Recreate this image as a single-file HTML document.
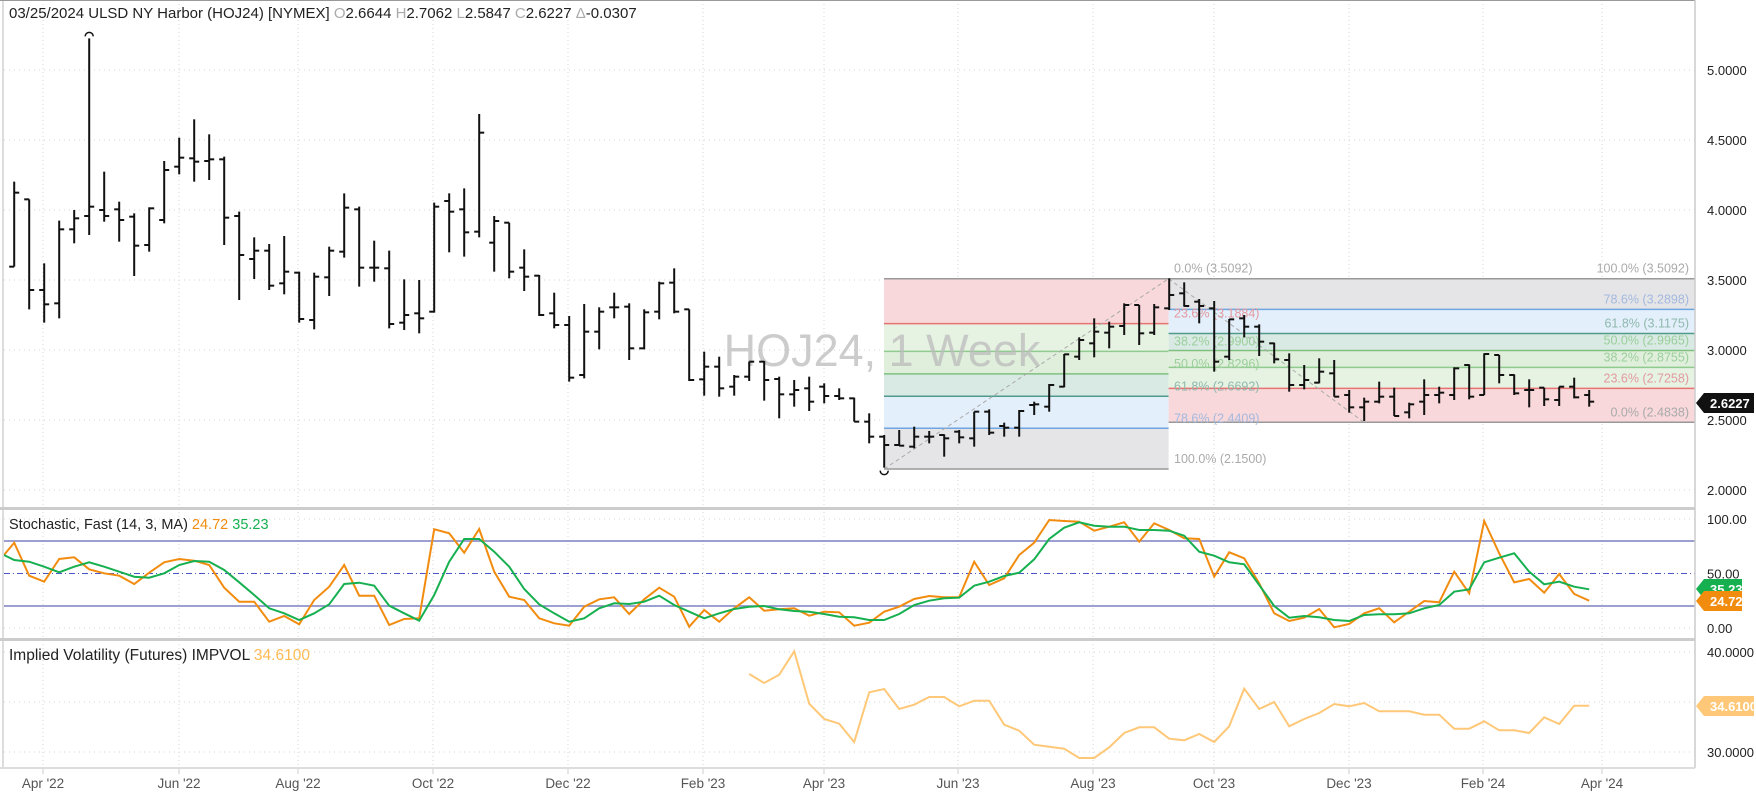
<!DOCTYPE html>
<html><head><meta charset="utf-8">
<style>
html,body{margin:0;padding:0;background:#fff;}
svg{display:block;font-family:"Liberation Sans",sans-serif;}
</style></head>
<body>
<svg id="c" width="1756" height="797" viewBox="0 0 1756 797" xmlns="http://www.w3.org/2000/svg"></svg>
<script>
const S=document.getElementById('c');let h='';
const bx=k=>14.2+(k-1)*15;
const py=p=>490-(p-2)*140;
const months=[[43,"Apr '22"],[179,"Jun '22"],[298,"Aug '22"],[433,"Oct '22"],[568,"Dec '22"],[703,"Feb '23"],[824,"Apr '23"],[958,"Jun '23"],[1093,"Aug '23"],[1214,"Oct '23"],[1349,"Dec '23"],[1483,"Feb '24"],[1602,"Apr '24"]];
months.forEach(m=>{h+=`<line x1="${m[0]}" y1="0" x2="${m[0]}" y2="768" stroke="#d4d4d4" stroke-dasharray="1,3"/>`;
h+=`<line x1="${m[0]}" y1="768" x2="${m[0]}" y2="774" stroke="#ccc"/>`;
h+=`<text x="${m[0]}" y="788" font-size="13.5" fill="#555" text-anchor="middle">${m[1]}</text>`;});
[2,2.5,3,3.5,4,4.5,5].forEach(p=>{h+=`<line x1="4" y1="${py(p)}" x2="1695" y2="${py(p)}" stroke="#d4d4d4" stroke-dasharray="1,4"/>`;
h+=`<text x="1707" y="${py(p)+5}" font-size="13" fill="#222">${p.toFixed(4)}</text>`;});
[519,628,652,702,752].forEach(y=>{h+=`<line x1="4" y1="${y}" x2="1695" y2="${y}" stroke="#d4d4d4" stroke-dasharray="1,4"/>`;});
const L0=884,L1=1168.6,R1=1695;
function band(x0,x1,p0,p1,c){h+=`<rect x="${x0}" y="${py(p0)}" width="${x1-x0}" height="${py(p1)-py(p0)}" fill="${c}"/>`;}
function ln(x0,x1,p,c){h+=`<line x1="${x0}" y1="${py(p)}" x2="${x1}" y2="${py(p)}" stroke="${c}" stroke-width="1.5"/>`;}
band(L0,L1,3.5092,3.1884,'#f8d8da');band(L0,L1,3.1884,2.99,'#e6f2e2');band(L0,L1,2.99,2.8296,'#e0efdc');
band(L0,L1,2.8296,2.6692,'#d9eae5');band(L0,L1,2.6692,2.4409,'#e3effb');band(L0,L1,2.4409,2.15,'#e5e5e7');
ln(L0,L1,3.5092,'#999');ln(L0,L1,3.1884,'#e57373');ln(L0,L1,2.99,'#8fcb8f');ln(L0,L1,2.8296,'#7fc07f');ln(L0,L1,2.6692,'#4f9a88');ln(L0,L1,2.4409,'#6fa6e0');ln(L0,L1,2.15,'#999');
band(L1,R1,3.5092,3.2898,'#e5e5e7');band(L1,R1,3.2898,3.1175,'#e3effb');band(L1,R1,3.1175,2.9965,'#d9eae5');
band(L1,R1,2.9965,2.8755,'#e0efdc');band(L1,R1,2.8755,2.7258,'#e6f2e2');band(L1,R1,2.7258,2.4838,'#f8d8da');
ln(L1,R1,3.5092,'#999');ln(L1,R1,3.2898,'#6fa6e0');ln(L1,R1,3.1175,'#4f9a88');ln(L1,R1,2.9965,'#7fc07f');ln(L1,R1,2.8755,'#8fcb8f');ln(L1,R1,2.7258,'#e57373');ln(L1,R1,2.4838,'#999');
h+=`<line x1="${bx(59)}" y1="${py(2.15)}" x2="${L1}" y2="${py(3.5092)}" stroke="#aaa" stroke-dasharray="4,3"/>`;
h+=`<line x1="${L1}" y1="${py(3.5092)}" x2="1364" y2="${py(2.4838)}" stroke="#aaa" stroke-dasharray="4,3"/>`;
h+=`<text x="882" y="366" font-size="45" fill="#bbb" fill-opacity="0.75" text-anchor="middle">HOJ24, 1 Week</text>`;
function fl(x,p,t,c,anchor){h+=`<text x="${x}" y="${py(p)-6}" font-size="12.5" fill="${c}" text-anchor="${anchor}">${t}</text>`;}
fl(1174,3.5092,'0.0% (3.5092)','#aaa','start');fl(1174,3.1884,'23.6% (3.1884)','#e39aa0','start');fl(1174,2.99,'38.2% (2.9900)','#9bcf9b','start');
fl(1174,2.8296,'50.0% (2.8296)','#9bcf9b','start');fl(1174,2.6692,'61.8% (2.6692)','#8fb9ad','start');fl(1174,2.4409,'78.6% (2.4409)','#a3b8df','start');fl(1174,2.15,'100.0% (2.1500)','#aaa','start');
fl(1689,3.5092,'100.0% (3.5092)','#aaa','end');fl(1689,3.2898,'78.6% (3.2898)','#a3b8df','end');fl(1689,3.1175,'61.8% (3.1175)','#8fb9ad','end');
fl(1689,2.9965,'50.0% (2.9965)','#9bcf9b','end');fl(1689,2.8755,'38.2% (2.8755)','#9bcf9b','end');fl(1689,2.7258,'23.6% (2.7258)','#e39aa0','end');fl(1689,2.4838,'0.0% (2.4838)','#aaa','end');
const B=[[545,800,800,578],[598,928,598,870],[790,968,870,913],[662,955,910,688],[630,730,688,655],[115,705,648,620],[515,665,630,648],[605,725,628,660],[640,828,650,737],[622,755,735,625],
[483,670,660,510],[413,523,500,473],[358,545,475,485],[403,540,483,478],[470,735,478,653],[635,900,648,765],[712,837,777,752],[732,870,752,857],[708,883,850,815],[815,968,818,957],
[818,988,960,830],[740,888,832,752],[580,773,755,623],[620,860,628,803],[722,845,803,803],[752,985,805,972],[838,990,968,945],[840,1000,940,955],[608,938,935,620],[580,757,603,635],
[565,770,628,697],[342,712,695,398],[648,815,728,663],[668,835,668,815],[748,873,803,830],[825,948,827,945],[878,985,940,975],[948,1145,975,1133],[912,1135,1125,995],
[922,1048,995,935],[878,955,922,922],[910,1080,920,1045],[928,1048,1045,937],[845,958,935,850],[805,940,848,935],[928,1143,928,1140],[1055,1187,1138,1100],[1070,1190,1100,1165],[1125,1187,1160,1130],
[1085,1143,1130,1085],[1083,1202,1085,1140],[1130,1255,1137,1183],[1140,1220,1183,1170],[1130,1233,1165,1205],[1150,1210,1160,1188],[1165,1200,1188,1195],[1193,1265,1195,1265],[1240,1330,1265,1310],[1305,1403,1310,1335],
[1290,1337,1335,1337],[1280,1345,1340,1310],[1293,1330,1310,1310],[1303,1370,1305,1315],[1290,1330,1295,1312],[1235,1340,1315,1235],[1228,1305,1235,1298],[1268,1310,1278,1283],[1230,1310,1283,1233],[1205,1245,1215,1213],
[1152,1235,1220,1155],[1062,1162,1160,1063],[1012,1080,1070,1020],[955,1072,1030,995],[965,1045,998,980],[910,1005,978,915],[915,1035,915,1000],[912,1005,998,922],[835,930,925,885],
[847,920,880,918],[897,970,905,918],[903,1115,925,1085],[957,1080,1070,958],[945,1012,955,980],[973,1068,980,1025],[1028,1090,1030,1078],[1060,1175,1080,1155],[1095,1168,1155,1140],[1075,1150,1148,1115],
[1080,1190,1120,1190],[1170,1238,1185,1222],[1193,1263,1222,1205],[1145,1210,1205,1190],[1163,1248,1190,1248],[1208,1255,1237,1213],[1138,1245,1205,1185],[1160,1210,1185,1178],[1102,1200,1185,1105],[1093,1198,1095,1190],
[1060,1185,1185,1062],[1065,1150,1065,1125],[1123,1185,1125,1180],[1138,1222,1170,1170],[1163,1218,1163,1198],[1160,1218,1200,1160],[1133,1195,1160,1192],[1170,1220,1185,1205]];
B.forEach((b,i)=>{const x=bx(i+1);const [H,L,O,C]=b.map(v=>v/3);
h+=`<line x1="${x}" y1="${H}" x2="${x}" y2="${L}" stroke="#111" stroke-width="2"/>`;
h+=`<line x1="${x-5}" y1="${O}" x2="${x}" y2="${O}" stroke="#111" stroke-width="2"/>`;
h+=`<line x1="${x}" y1="${C}" x2="${x+5}" y2="${C}" stroke="#111" stroke-width="2"/>`;});
h+=`<path d="M${bx(6)-4},${115/3-2} a4,4 0 0 1 8,0" fill="none" stroke="#111" stroke-width="1.5"/>`;
h+=`<path d="M${bx(59)-4},${1403/3+3} a4,4 0 0 0 8,0" fill="none" stroke="#111" stroke-width="1.5"/>`;
h+=`<line x1="4" y1="541" x2="1695" y2="541" stroke="#7a80c0" stroke-width="1.5"/>`;
h+=`<line x1="4" y1="606" x2="1695" y2="606" stroke="#7a80c0" stroke-width="1.5"/>`;
h+=`<line x1="4" y1="573.5" x2="1695" y2="573.5" stroke="#4a55c8" stroke-dasharray="6,3,1,3"/>`;
const O=[150,113,212,230,162,157,193,205,212,237,203,172,162,167,180,248,290,290,350,333,358,285,245,180,272,272,360,342,340,73,85,143,72,200,275,285,340,355,362,305,283,277,327,283,248,275,365,315,350,310,277,317,313,310,332,320,322,362,
353,320,305,282,273,277,277,170,240,220,150,113,45,48,50,77,65,52,110,55,75,100,102,215,142,160,235,325,348,338,312,367,357,325,310,352,320,288,292,200,265,48,145,232,222,263,207,267,287];
const G=[150,165,170,185,202,185,172,185,200,215,218,205,180,168,170,195,232,270,310,325,345,325,298,237,233,242,302,325,347,270,170,102,102,140,185,252,298,325,350,340,310,295,297,290,272,300,320,340,325,312,305,303,313,318,320,327,335,337,
345,345,327,300,287,280,278,242,230,213,203,163,102,68,52,62,65,65,75,75,77,92,140,152,172,178,240,303,338,333,337,345,348,330,328,328,325,310,300,260,253,172,158,145,200,238,230,245,253];
const pl=(arr,k0,fy)=>arr.map((v,i)=>`${Math.max(4,bx(k0+i)).toFixed(1)},${fy(v).toFixed(1)}`).join(' ');
h+=`<polyline points="${pl(O,0,v=>505+v/3)}" fill="none" stroke="#f28c0f" stroke-width="2"/>`;
h+=`<polyline points="${pl(G,0,v=>505+v/3)}" fill="none" stroke="#16b050" stroke-width="2"/>`;
const I=[108,135,110,40,197,243,257,312,163,153,213,200,177,177,205,188,188,260,278,320,326,332,360,360,328,285,268,268,302,307,288,312,265,152,213,192,265,243,225,198,205,195,220,220,220,230,230,272,272,250,277,277,285,238,258,203,203];
h+=`<polyline points="${pl(I,50,v=>638+v/3)}" fill="none" stroke="#ffc878" stroke-width="2"/>`;
h+=`<rect x="0" y="0" width="4" height="797" fill="#fff"/>`;
h+=`<line x1="3" y1="0" x2="3" y2="768" stroke="#bbb"/>`;
h+=`<line x1="0" y1="0.5" x2="1695" y2="0.5" stroke="#999"/>`;
h+=`<line x1="1695" y1="0" x2="1695" y2="768" stroke="#ccc" stroke-width="1.5"/>`;
h+=`<rect x="0" y="507" width="1695" height="3" fill="#ccc"/>`;
h+=`<rect x="0" y="638" width="1695" height="3" fill="#ccc"/>`;
h+=`<rect x="0" y="767" width="1695" height="2" fill="#ddd"/>`;
[[519,'100.00'],[573.5,'50.00'],[628,'0.00']].forEach(a=>{h+=`<text x="1707" y="${a[0]+5}" font-size="13" fill="#222">${a[1]}</text>`;});
[[652,'40.0000'],[752,'30.0000']].forEach(a=>{h+=`<text x="1707" y="${a[0]+5}" font-size="13" fill="#222">${a[1]}</text>`;});
function tag(y,col,t,w){h+=`<polygon points="1696,${y} 1704,${y-10} ${1704+w},${y-10} ${1704+w},${y+10} 1704,${y+10}" fill="${col}"/>`;
h+=`<text x="1710" y="${y+5}" font-size="13" fill="#fff" font-weight="bold">${t}</text>`;}
tag(403,'#111','2.6227',50);
tag(589,'#16b050','35.23',38);
tag(601,'#f28c0f','24.72',38);
tag(706,'#ffc878','34.6100',50);
h+=`<text x="9" y="18" font-size="15" fill="#222">03/25/2024  ULSD NY Harbor (HOJ24) [NYMEX]  <tspan fill="#aaa">O</tspan>2.6644 <tspan fill="#aaa">H</tspan>2.7062 <tspan fill="#aaa">L</tspan>2.5847 <tspan fill="#aaa">C</tspan>2.6227 <tspan fill="#aaa">Δ</tspan>-0.0307</text>`;
h+=`<text x="9" y="529" font-size="14.5" fill="#222">Stochastic, Fast  (14, 3, MA) <tspan fill="#f28c0f">24.72</tspan> <tspan fill="#16b050">35.23</tspan></text>`;
h+=`<text x="9" y="660" font-size="15.5" fill="#222">Implied Volatility (Futures) IMPVOL <tspan fill="#ffbb55">34.6100</tspan></text>`;
S.innerHTML=h;
</script>
</body></html>
